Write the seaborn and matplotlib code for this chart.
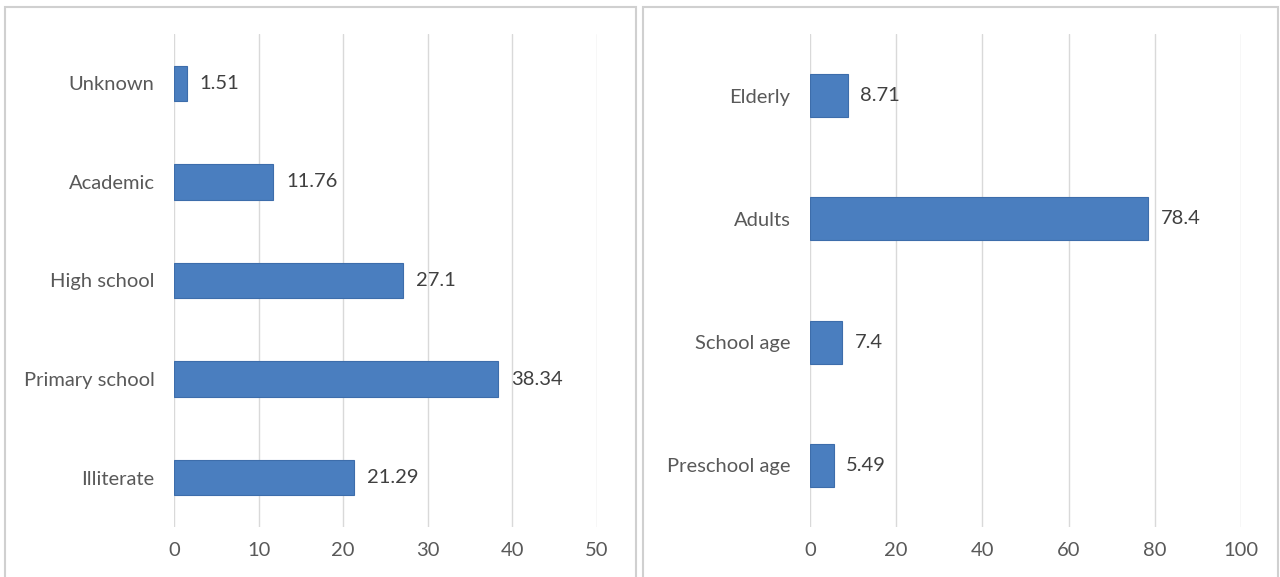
import pandas as pd
import matplotlib.pyplot as plt
import seaborn as sns
from matplotlib.patches import Rectangle

# education level (%)
edu_labels = ["Unknown", "Academic", "High school", "Primary school", "Illiterate"]
edu_values = [1.51, 11.76, 27.1, 38.34, 21.29]
edu_ticks = [0, 10, 20, 30, 40, 50]

# age group (%)
age_labels = ["Elderly", "Adults", "School age", "Preschool age"]
age_values = [8.71, 78.4, 7.4, 5.49]
age_ticks = [0, 20, 40, 60, 80, 100]

BLUE = "#4a7ebf"
EDGE = "#3d6dab"
GRID = "#d9d9d9"
TXT = "#595959"

sns.set_style("white")
plt.rcParams["font.family"] = ["Lato", "DejaVu Sans"]

W, H = 1280, 577
fig = plt.figure(figsize=(W / 100, H / 100), dpi=100)


def px_axes(x0, x1, y0, y1):
    return fig.add_axes([x0 / W, 1 - y1 / H, (x1 - x0) / W, (y1 - y0) / H])


def draw_panel(ax, labels, values, ticks, width, label_pad):
    df = pd.DataFrame({"cat": labels, "val": values})
    sns.barplot(data=df, x="val", y="cat", orient="h", color=BLUE,
                edgecolor=EDGE, linewidth=0.8, width=width, ax=ax,
                saturation=1)
    ax.set_xlim(ticks[0], ticks[-1])
    ax.set_ylim(len(labels) - 0.5, -0.5)
    ax.set_xticks(ticks)
    ax.set_xlabel("")
    ax.set_ylabel("")
    ax.grid(axis="x", color=GRID, linewidth=1)
    ax.set_axisbelow(True)
    for s in ax.spines.values():
        s.set_visible(False)
    ax.tick_params(axis="both", length=0, labelsize=14.5, colors=TXT)
    ax.tick_params(axis="x", pad=11)
    ax.tick_params(axis="y", pad=14)
    for i, v in enumerate(values):
        ax.annotate(f"{v:g}", (v, i), xytext=(label_pad, 0),
                    textcoords="offset points", va="center", ha="left",
                    fontsize=14.5, color="#404040")


# panel frames
fig.patches.append(Rectangle((5 / W, -0.02), 631 / W, 1 - 7 / H + 0.02,
                             transform=fig.transFigure, fill=False,
                             edgecolor="#d0d0d0", linewidth=1.5))
fig.patches.append(Rectangle((643 / W, -0.02), 635 / W, 1 - 7 / H + 0.02,
                             transform=fig.transFigure, fill=False,
                             edgecolor="#d0d0d0", linewidth=1.5))

ax1 = px_axes(174, 597, 34, 527)
draw_panel(ax1, edu_labels, edu_values, edu_ticks, 0.36, 9)

ax2 = px_axes(810, 1241, 34, 527)
draw_panel(ax2, age_labels, age_values, age_ticks, 0.35, 9)

fig.savefig("out.png", dpi=100)
